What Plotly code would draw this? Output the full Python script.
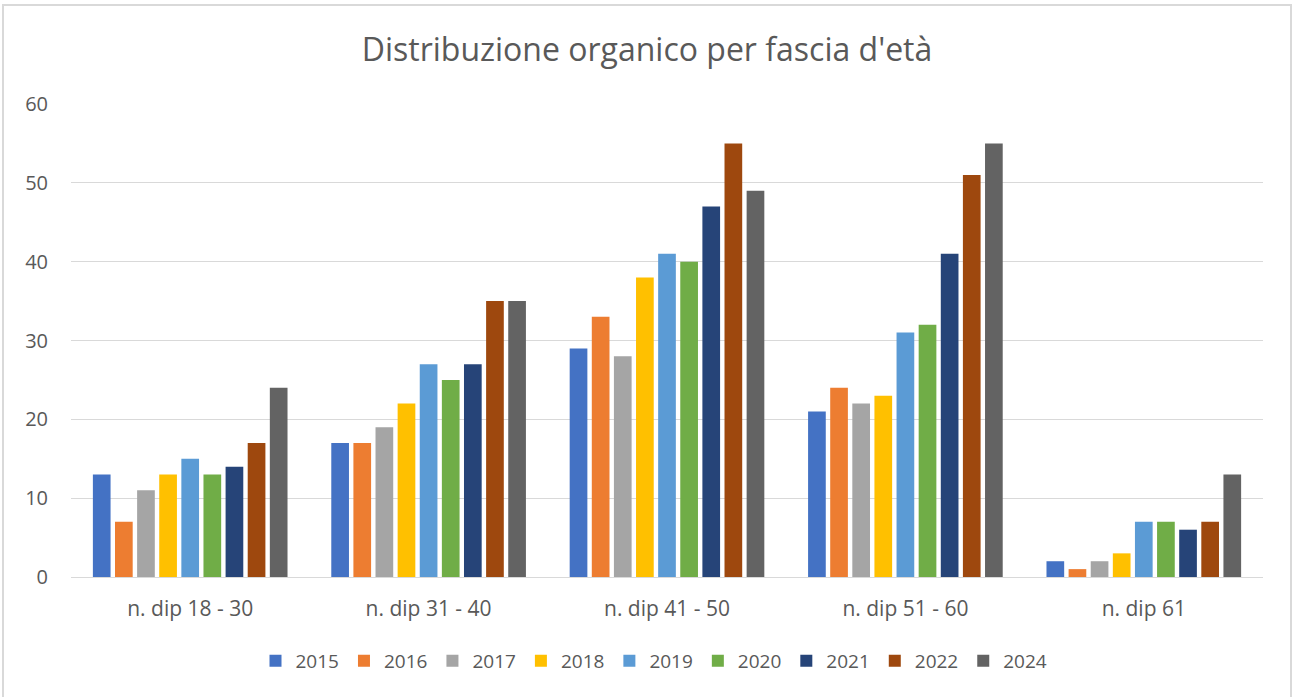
import plotly.graph_objects as go

categories = ["n. dip 18 - 30", "n. dip 31 - 40", "n. dip 41 - 50", "n. dip 51 - 60", "n. dip 61"]
years = ["2015", "2016", "2017", "2018", "2019", "2020", "2021", "2022", "2024"]
values = {
    "2015": [13, 17, 29, 21, 2],
    "2016": [7, 17, 33, 24, 1],
    "2017": [11, 19, 28, 22, 2],
    "2018": [13, 22, 38, 23, 3],
    "2019": [15, 27, 41, 31, 7],
    "2020": [13, 25, 40, 32, 7],
    "2021": [14, 27, 47, 41, 6],
    "2022": [17, 35, 55, 51, 7],
    "2024": [24, 35, 49, 55, 13],
}
colors = ["#4472C4", "#ED7D31", "#A5A5A5", "#FFC000", "#5B9BD5",
          "#70AD47", "#264478", "#9E480E", "#636363"]

fig = go.Figure()
for y, c in zip(years, colors):
    fig.add_trace(go.Bar(x=categories, y=values[y], name=y, marker_color=c,
                         marker_line_width=0))

W, H = 1294, 697
L, R, T, B = 71, 31, 104, 120
pw, ph = W - L - R, H - T - B

def px(x):
    return (x - L) / pw

def py(y):
    return (H - B - y) / ph

fig.update_layout(
    width=W, height=H,
    margin=dict(l=L, r=R, t=T, b=B),
    paper_bgcolor="white", plot_bgcolor="white",
    barmode="group", bargap=0.165, bargroupgap=0.2,
    font=dict(family="Open Sans", color="#595959", size=20),
    title=dict(text="Distribuzione organico per fascia d'età", x=0.5, xanchor="center",
               y=1 - 50 / H, yanchor="middle",
               font=dict(family="Open Sans", size=32, color="#595959")),
    xaxis=dict(showgrid=False, showline=True, linecolor="#D9D9D9", linewidth=1,
               ticks="outside", ticklen=13, tickcolor="rgba(0,0,0,0)",
               tickfont=dict(size=21, color="#595959")),
    yaxis=dict(range=[0, 60], dtick=10, showgrid=True, gridcolor="#D9D9D9", gridwidth=1,
               zeroline=False, showline=False, ticks="outside", ticklen=18,
               tickcolor="rgba(0,0,0,0)", tickfont=dict(size=20, color="#595959")),
    legend=dict(orientation="h", x=px(654), xanchor="center", y=py(661), yanchor="middle",
                font=dict(size=19, color="#595959"), itemwidth=30, traceorder="normal"),
    showlegend=True,
    shapes=[dict(type="rect", xref="paper", yref="paper",
                 x0=px(3), x1=px(1291), y0=py(705), y1=py(5),
                 line=dict(color="#D9D9D9", width=2), fillcolor="rgba(0,0,0,0)", layer="below")],
)

fig.write_html("out.html", config={"displayModeBar": False},
               post_script="document.body.style.margin='0px';")
